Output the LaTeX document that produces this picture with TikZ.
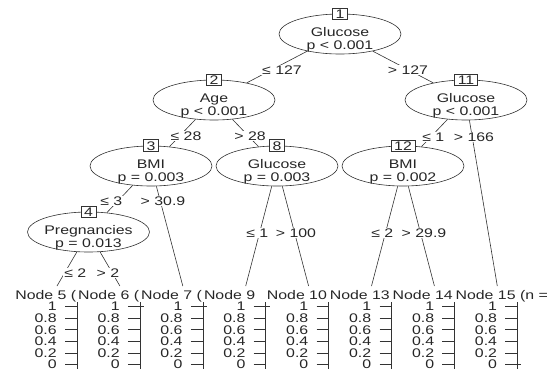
\documentclass[tikz,border=0pt]{standalone}
\usepackage{fontspec}
\setmainfont{Liberation Sans}[FakeStretch=1.27]
\usepackage{tikz}
\usetikzlibrary{shapes.geometric, positioning}

\begin{document}
\begin{tikzpicture}[x=1pt, y=-1pt, line width=0.6pt,
    every node/.style={font=\fontsize{12.5}{13}\selectfont, text=black!85},
    splitnode/.style={ellipse, draw=black!80, fill=white, minimum width=122pt, minimum height=40pt, inner sep=0pt},
    splittext/.style={align=center, inner sep=0pt, yshift=-5.5pt},
    idbox/.style={draw=black!80, fill=white, inner xsep=3pt, inner ysep=1.5pt},
    edgelab/.style={fill=white, inner xsep=1pt, inner ysep=0.5pt},
    edgeline/.style={draw=black!80},
    ticklab/.style={anchor=east, inner sep=0pt}]
    % Khung hình
    \useasboundingbox (0,0) rectangle (557,376);

    % Các nút chia: hình elip, tên biến và số thứ tự
    \node[splitnode] (n1) at (340,34) {};
    \node[splittext] (n1t) at (n1) {Glucose\\p < 0.001};
    \node[idbox] (n1b) at (n1.north) {1};

    \node[splitnode] (n2) at (214,100) {};
    \node[splittext] (n2t) at (n2) {Age\\p < 0.001};
    \node[idbox] (n2b) at (n2.north) {2};

    \node[splitnode] (n11) at (466,100) {};
    \node[splittext] (n11t) at (n11) {Glucose\\p < 0.001};
    \node[idbox] (n11b) at (n11.north) {11};

    \node[splitnode] (n3) at (151,166) {};
    \node[splittext] (n3t) at (n3) {BMI\\p = 0.003};
    \node[idbox] (n3b) at (n3.north) {3};

    \node[splitnode] (n8) at (277,166) {};
    \node[splittext] (n8t) at (n8) {Glucose\\p = 0.003};
    \node[idbox] (n8b) at (n8.north) {8};

    \node[splitnode] (n12) at (403,166) {};
    \node[splittext] (n12t) at (n12) {BMI\\p = 0.002};
    \node[idbox] (n12b) at (n12.north) {12};

    \node[splitnode] (n4) at (88.5,232) {};
    \node[splittext] (n4t) at (n4) {Pregnancies\\p = 0.013};
    \node[idbox] (n4b) at (n4.north) {4};

    % Các nút lá: tiêu đề, trục và vạch chia
    \foreach \k/\c/\hd in {5/57/{Node 5 (}, 6/119.9/{Node 6 (}, 7/182.8/{Node 7 (},
            9/245.7/{Node 9}, 10/308.6/{Node 10}, 13/371.5/{Node 13},
            14/434.4/{Node 14}, 15/497.3/{Node 15 (n =}} {
        \coordinate (t\k) at (\c,286);
        \node[anchor=base west, inner sep=0pt] (h\k) at (\c-42,299) {\hd};
        \draw[edgeline] (\c+20,302) -- (\c+20,369);
        \foreach \v [count=\j from 0] in {1,0.8,0.6,0.4,0.2,0} {
            \draw[edgeline] (\c+8,306.5+11.6*\j) -- (\c+20,306.5+11.6*\j);
            \node[ticklab] (y\k-\j) at (\c,306.5+11.6*\j) {\v};
        }
    }

    % Dấu nhỏ ở đầu trục
    \foreach \c/\yy in {119.9/306.5, 182.8/306.5, 245.7/306.5, 497.3/364.5}
        \draw[edgeline] (\c+20,\yy) -- (\c+24,\yy);

    % Các cạnh nối
    \foreach \a/\b in {n1/n2, n1/n11, n2/n3, n2/n8, n3/n4, n3/t7, n4/t5, n4/t6,
            n8/t9, n8/t10, n11/n12, n11/t15, n12/t13, n12/t14}
        \draw[edgeline] (\a) -- (\b);

    % Nhãn trên các cạnh
    \node[edgelab] (e2) at (282,70) {≤ 127};
    \node[edgelab] (e11) at (408,70) {> 127};
    \node[edgelab] (e3) at (186,136) {≤ 28};
    \node[edgelab] (e8) at (250,136) {> 28};
    \node[edgelab, anchor=west] (e12) at (421,137) {≤ 1};
    \node[edgelab] (e15) at (474,137) {> 166};
    \node[edgelab, anchor=west] (e4) at (99,201) {≤ 3};
    \node[edgelab] (e7) at (163,201) {> 30.9};
    \node[edgelab, anchor=west] (e5) at (63,273) {≤ 2};
    \node[edgelab] (e6) at (108,273) {> 2};
    \node[edgelab, anchor=west] (e9) at (245,233) {≤ 1};
    \node[edgelab] (e10) at (296,233) {> 100};
    \node[edgelab, anchor=west] (e13) at (370,233) {≤ 2};
    \node[edgelab] (e14) at (424,233) {> 29.9};
\end{tikzpicture}
\end{document}
